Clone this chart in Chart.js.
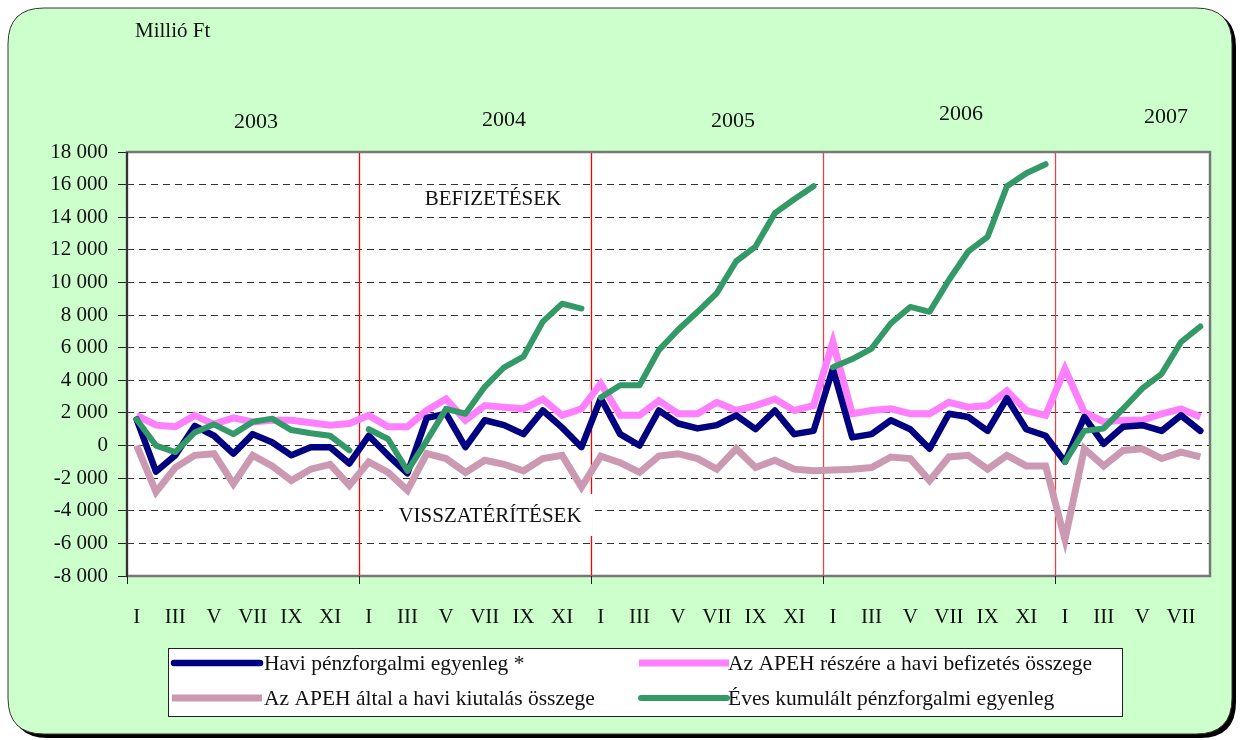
<!DOCTYPE html>
<html>
<head>
<meta charset="utf-8">
<script src="https://cdn.jsdelivr.net/npm/chart.js@4.4.1/dist/chart.umd.min.js"></script>
<style>
  html, body { margin: 0; padding: 0; background: #fff; }
  #wrap { width: 1242px; height: 740px; position: relative; }
</style>
</head>
<body>
<div id="wrap"><canvas id="c" width="1242" height="740"></canvas></div>
<script>
// ---------- DATA ----------
const monthNames = ['I','II','III','IV','V','VI','VII','VIII','IX','X','XI','XII'];
const years = ['2003','2004','2005','2006','2007'];
const categories = [].concat(monthNames, monthNames, monthNames, monthNames, monthNames.slice(0, 8));

// Havi pénzforgalmi egyenleg *
const haviEgyenleg = [
  1600, -1600, -600, 1200, 600, -500, 700, 200, -600, -100, -100, -1100,
  600, -600, -1700, 1700, 1950, -100, 1550, 1250, 700, 2150, 1100, -100,
  2900, 700, 0, 2150, 1350, 1050, 1250, 1850, 1000, 2150, 700, 900,
  4700, 500, 700, 1550, 1000, -200, 1950, 1750, 900, 2900, 1000, 600,
  -1000, 1750, 100, 1150, 1250, 900, 1850, 900
];
// Az APEH részére a havi befizetés összege
const haviBefizetes = [
  1850, 1250, 1150, 1850, 1300, 1700, 1450, 1550, 1550, 1400, 1250, 1350,
  1850, 1150, 1150, 2150, 2850, 1550, 2450, 2350, 2250, 2850, 1850, 2250,
  3800, 1850, 1850, 2750, 1950, 1950, 2650, 2150, 2450, 2850, 2150, 2450,
  6350, 1950, 2150, 2250, 1950, 1950, 2650, 2350, 2450, 3350, 2150, 1850,
  4700, 2050, 1450, 1550, 1550, 1950, 2250, 1750
];
// Az APEH által a havi kiutalás összege
const haviKiutalas = [
  0, -2850, -1350, -600, -500, -2350, -600, -1250, -2150, -1450, -1150, -2450,
  -1000, -1650, -2750, -500, -800, -1650, -900, -1150, -1550, -800, -600, -2550,
  -650, -1050, -1650, -650, -500, -800, -1450, -200, -1350, -900, -1450, -1550,
  -1500, -1450, -1350, -700, -800, -2150, -700, -600, -1450, -600, -1250, -1250,
  -5750, -200, -1250, -300, -200, -800, -400, -700
];
// Éves kumulált pénzforgalmi egyenleg
const evesKumulalt = [
  1600, 0, -400, 800, 1300, 700, 1450, 1650, 950, 750, 600, -300,
  1000, 400, -1550, 300, 2250, 1950, 3600, 4800, 5450, 7600, 8700, 8400,
  2950, 3700, 3700, 5850, 7100, 8200, 9350, 11300, 12200, 14250, 15100, 15900,
  4800, 5300, 5950, 7500, 8500, 8200, 10150, 11900, 12800, 15900, 16700, 17250,
  -1000, 900, 1050, 2250, 3500, 4400, 6350, 7300
];
const seriesNames = [
  'Havi pénzforgalmi egyenleg *',
  'Az APEH részére a havi befizetés összege',
  'Az APEH által a havi kiutalás összege',
  'Éves kumulált pénzforgalmi egyenleg'
];
const yMin = -8000, yMax = 18000, yStep = 2000;

// ---------- STYLE ----------
const SERIF = "'Liberation Serif', 'Times New Roman', serif";
const C_NAVY = '#000080', C_PINK = '#FF80FF', C_MAUVE = '#CC99B2', C_GREEN = '#339966';

function fmt(v) {
  const s = String(Math.abs(v)).replace(/\B(?=(\d{3})+(?!\d))/g, ' ');
  return (v < 0 ? '-' : '') + s;
}

function rr(ctx, x, y, w, h, r) {
  ctx.beginPath();
  ctx.moveTo(x + r, y);
  ctx.lineTo(x + w - r, y);
  ctx.quadraticCurveTo(x + w, y, x + w, y + r);
  ctx.lineTo(x + w, y + h - r);
  ctx.quadraticCurveTo(x + w, y + h, x + w - r, y + h);
  ctx.lineTo(x + r, y + h);
  ctx.quadraticCurveTo(x, y + h, x, y + h - r);
  ctx.lineTo(x, y + r);
  ctx.quadraticCurveTo(x, y, x + r, y);
  ctx.closePath();
}

function yearBoundaryX(chart, k) {
  const xs = chart.scales.x;
  const step = (xs.right - xs.left) / categories.length;
  return xs.left + step * 12 * k;
}

const decor = {
  id: 'decor',
  beforeDraw(chart) {
    const ctx = chart.ctx, a = chart.chartArea;
    ctx.save();
    ctx.fillStyle = '#ffffff';
    ctx.fillRect(0, 0, chart.width, chart.height);
    // shadow
    ctx.fillStyle = '#000';
    rr(ctx, 12, 11, 1224, 727, 36);
    ctx.fill();
    ctx.fillStyle = '#CCFFCC';
    rr(ctx, 8, 8, 1224, 726, 36);
    ctx.fill();
    ctx.strokeStyle = '#333';
    ctx.lineWidth = 1;
    ctx.stroke();
    // plot area
    ctx.fillStyle = '#ffffff';
    ctx.fillRect(a.left, a.top, a.right - a.left, a.bottom - a.top);
    ctx.restore();
  },
  beforeDatasetsDraw(chart) {
    const ctx = chart.ctx, a = chart.chartArea;
    ctx.save();
    ctx.setLineDash([]);
    ctx.lineWidth = 1.3;
    for (let k = 1; k < years.length; k++) {
      const x = Math.round(yearBoundaryX(chart, k)) + 0.5;
      ctx.strokeStyle = k <= 2 ? '#FF0000' : '#E04848';
      ctx.beginPath();
      ctx.moveTo(x, a.top);
      ctx.lineTo(x, a.bottom);
      ctx.stroke();
    }
    // white text box for VISSZATÉRÍTÉSEK
    const bx = Math.round(yearBoundaryX(chart, 2)) + 1.8;
    ctx.fillStyle = '#ffffff';
    ctx.fillRect(383, 494, bx - 383, 42);
    ctx.restore();
  },
  afterDatasetsDraw(chart) {
    const ctx = chart.ctx, a = chart.chartArea;
    ctx.save();
    // frame
    ctx.strokeStyle = '#777';
    ctx.lineWidth = 2.5;
    ctx.strokeRect(a.left, a.top, a.right - a.left, a.bottom - a.top);
    ctx.strokeStyle = '#333';
    ctx.lineWidth = 2;
    ctx.beginPath();
    ctx.moveTo(a.left, a.top); ctx.lineTo(a.left, a.bottom + 1);
    ctx.stroke();
    // year ticks on x axis
    ctx.strokeStyle = '#222';
    ctx.lineWidth = 1;
    for (let k = 0; k < years.length; k++) {
      const x = Math.round(yearBoundaryX(chart, k)) + 0.5;
      ctx.beginPath();
      ctx.moveTo(x, a.bottom);
      ctx.lineTo(x, a.bottom + 8);
      ctx.stroke();
    }
    // in-plot labels
    ctx.fillStyle = '#111';
    ctx.font = '21px ' + SERIF;
    ctx.textAlign = 'center';
    ctx.textBaseline = 'middle';
    ctx.fillText('BEFIZETÉSEK', 493, 199);
    ctx.fillText('VISSZATÉRÍTÉSEK', 490, 516);
    ctx.restore();
  },
  afterDraw(chart) {
    const ctx = chart.ctx;
    ctx.save();
    ctx.fillStyle = '#111';
    ctx.textBaseline = 'middle';
    ctx.font = '21px ' + SERIF;
    ctx.textAlign = 'left';
    ctx.fillText('Millió Ft', 135, 31);
    // year labels
    ctx.font = '22px ' + SERIF;
    ctx.textAlign = 'center';
    const yearPos = [[256, 122], [504, 120], [733, 121], [961, 114], [1166, 117]];
    years.forEach((y, i) => ctx.fillText(y, yearPos[i][0], yearPos[i][1]));
    // legend
    ctx.fillStyle = '#fff';
    ctx.fillRect(168, 648, 954, 68);
    ctx.strokeStyle = '#222';
    ctx.lineWidth = 1;
    ctx.strokeRect(168.5, 648.5, 954, 68);
    const items = [
      { c: C_NAVY, w: 6.5, cap: 'round', x: 174, y: 663, t: seriesNames[0] },
      { c: C_PINK, w: 7, cap: 'butt', x: 639, y: 663, t: seriesNames[1] },
      { c: C_MAUVE, w: 7, cap: 'butt', x: 172, y: 698, t: seriesNames[2] },
      { c: C_GREEN, w: 6, cap: 'round', x: 641, y: 698, t: seriesNames[3] }
    ];
    ctx.font = '21.5px ' + SERIF;
    ctx.textAlign = 'left';
    items.forEach(it => {
      ctx.strokeStyle = it.c;
      ctx.lineWidth = it.w;
      ctx.lineCap = it.cap;
      ctx.beginPath();
      ctx.moveTo(it.x, it.y);
      ctx.lineTo(it.x + (it.cap === 'round' ? 86 : 90), it.y);
      ctx.stroke();
      ctx.fillStyle = '#111';
      ctx.fillText(it.t, it.x < 400 ? 264 : 728, it.y + 1);
    });
    ctx.restore();
  }
};

const yearBreak = ctx => (ctx.p1DataIndex % 12 === 0) ? 'rgba(0,0,0,0)' : C_GREEN;

new Chart(document.getElementById('c'), {
  type: 'line',
  data: {
    labels: categories,
    datasets: [
      { label: seriesNames[3], data: evesKumulalt, borderColor: C_GREEN, borderWidth: 6,
        borderCapStyle: 'round', borderJoinStyle: 'round', segment: { borderColor: yearBreak } },
      { label: seriesNames[0], data: haviEgyenleg, borderColor: C_NAVY, borderWidth: 6.5,
        borderCapStyle: 'round', borderJoinStyle: 'round' },
      { label: seriesNames[1], data: haviBefizetes, borderColor: C_PINK, borderWidth: 7,
        borderJoinStyle: 'miter' },
      { label: seriesNames[2], data: haviKiutalas, borderColor: C_MAUVE, borderWidth: 7,
        borderJoinStyle: 'miter' }
    ]
  },
  options: {
    responsive: false,
    animation: false,
    events: [],
    elements: { point: { radius: 0 }, line: { tension: 0, fill: false } },
    layout: { padding: { top: 152, right: 32, bottom: 104, left: 0 } },
    plugins: { legend: { display: false }, tooltip: { enabled: false }, title: { display: false } },
    scales: {
      x: {
        type: 'category',
        offset: true,
        grid: { display: false },
        border: { display: false },
        afterFit: s => { s.height = 60; },
        ticks: {
          autoSkip: false, maxRotation: 0, minRotation: 0, padding: 21,
          color: '#111', font: { family: SERIF, size: 21 },
          callback: (v, i) => (i % 2 === 0 ? categories[i] : '')
        }
      },
      y: {
        min: yMin, max: yMax,
        afterFit: s => { s.width = 127; },
        border: { display: false, dash: [7, 5] },
        grid: { color: '#333', lineWidth: 1, drawTicks: true, tickLength: 9, tickColor: '#222', tickBorderDash: [] },
        ticks: {
          stepSize: yStep, padding: 10, color: '#111',
          font: { family: SERIF, size: 21 },
          callback: v => fmt(v)
        }
      }
    }
  },
  plugins: [decor]
});
</script>
</body>
</html>
